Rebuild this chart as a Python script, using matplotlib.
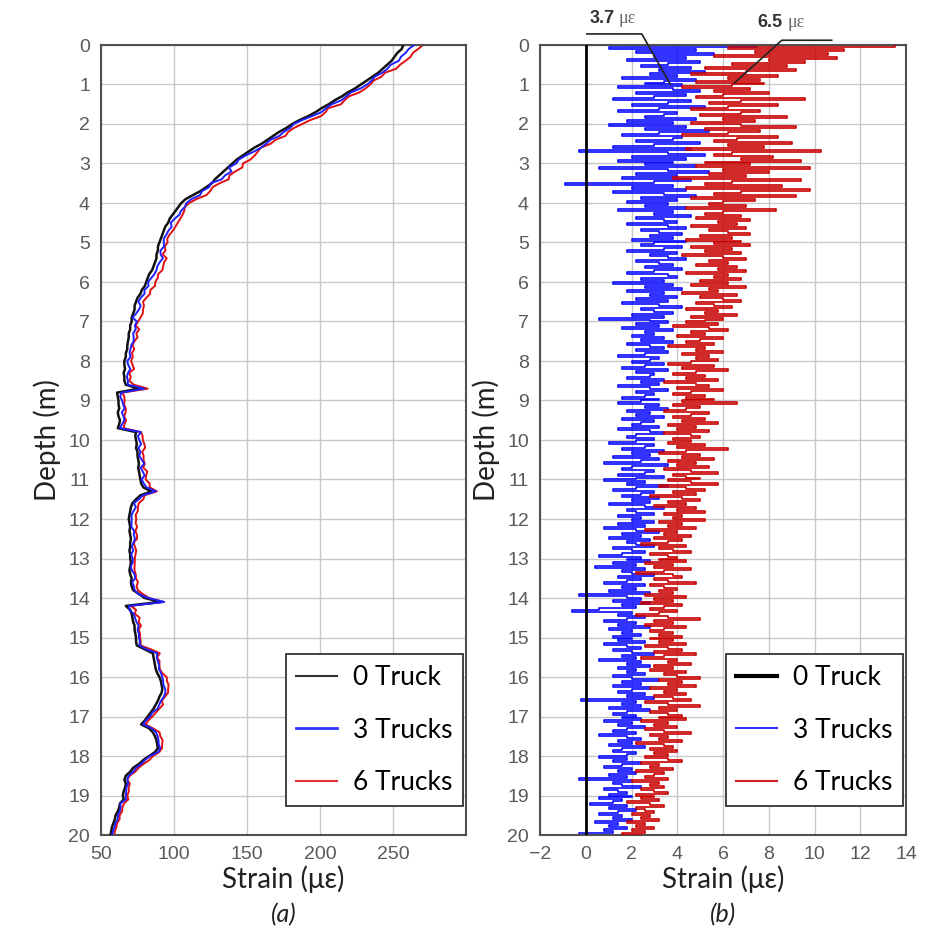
import numpy as np
import matplotlib
matplotlib.use("Agg")
import matplotlib.pyplot as plt
from matplotlib.lines import Line2D

# ---------------- data ----------------
# Panel (a): depth grid 0..20 m every 0.1 m, strain of "0 Truck"
depth_a = np.round(np.arange(0, 20.0001, 0.1), 2)
strain_0truck = [
    257, 256, 253, 251, 249, 246, 243, 240, 236, 232,
    228, 224, 219, 215, 210, 206, 201, 197, 192, 186,
    181, 177, 172, 168, 164, 160, 155, 151, 147, 143,
    140, 137, 134, 131, 128, 126, 122, 118, 113, 108,
    105, 103, 101, 99, 97, 96, 94, 93, 92, 91,
    90, 89, 89, 88, 88, 87, 86, 85, 83, 82,
    81, 80, 78, 77, 75, 74, 73, 73, 72, 71,
    71, 70, 70, 69, 69, 68.5, 68, 68, 67, 67,
    66, 66, 66.5, 65.5, 66, 66, 67, 76, 61, 61.5,
    62, 62, 62.5, 61.5, 62, 63, 62.5, 61.5, 74, 73.5,
    74, 74.5, 74, 75, 75, 75.5, 76, 75.5, 76, 76.5,
    77, 77.5, 79, 84.5, 77, 74, 71.5, 70.5, 70, 69.5,
    69, 69.5, 70, 69.5, 70, 70.5, 70, 70, 69.5, 70,
    70, 70.5, 70, 69.5, 70, 71, 70.5, 71, 72, 76,
    80, 90.5, 67, 70, 71, 71.5, 72, 73, 73, 73.5,
    74, 74, 74.5, 80, 85.5, 86, 86.5, 87, 87.5, 88.5,
    90, 91, 91.5, 92, 91.5, 90, 89, 87.5, 86, 84,
    82, 80, 77.5, 83, 85.5, 87, 88, 88.5, 89, 87,
    83, 79, 76, 72, 70, 67, 66, 67, 66.5, 65.5,
    65, 65.5, 63, 62.5, 61.5, 60, 59.5, 58.5, 57.5, 57,
    56.5,
]

# Panel (b): strain change relative to 0 Truck, depth 0..20 m every 0.05 m
depth_b = np.round(np.arange(0, 20.0001, 0.05), 3)
delta_3trucks = [
    7.5, 1.0, 4.8, 2.2, 5.6, 3.0, 4.4, 1.8, 5.0, 3.6, 2.4, 4.6, 3.2, 5.2, 2.8, 4.0, 1.6, 4.8, 3.4, 2.6,
    4.2, 1.4, 3.8, 5.0, 2.2, 4.4, 3.0, 1.2, 4.6, 3.6, 2.0, 5.2, 3.2, 1.4, 4.0, 3.4, 2.6, 4.8, 1.8, 3.8,
    1.0, 4.4, 2.6, 5.4, 3.2, 1.6, 4.2, 3.8, 2.2, 5.0, 3.0, 1.2, 4.6, -0.3, 3.6, 5.2, 2.0, 4.4, 1.4, 3.8,
    2.6, 4.8, 0.6, 3.6, 5.4, 2.2, 4.0, 1.6, 4.6, 3.0, -0.9, 3.8, 2.0, 4.4, 1.2, 3.4, 4.8, 2.4, 4.0, 1.8,
    3.6, 2.6, 4.4, 1.4, 3.8, 3.0, 4.6, 2.2, 3.4, 4.0, 1.8, 3.6, 4.4, 2.4, 3.2, 4.2, 2.8, 3.8, 2.0, 4.4,
    3.0, 2.4, 4.2, 3.4, 1.8, 4.0, 2.8, 3.6, 4.4, 2.2, 3.2, 3.8, 2.6, 4.2, 3.0, 1.8, 3.6, 4.0, 2.4, 3.4,
    1.2, 3.8, 2.6, 4.2, 1.8, 3.4, 2.8, 4.0, 2.2, 3.6, 1.6, 3.2, 4.2, 2.4, 3.0, 3.8, 2.0, 3.4, 0.6, 2.8,
    3.6, 2.2, 3.2, 1.6, 3.8, 2.6, 3.0, 2.0, 3.4, 2.4, 3.8, 1.8, 2.8, 3.4, 2.2, 3.6, 2.6, 1.4, 3.2, 2.8,
    2.0, 3.4, 2.6, 1.6, 3.6, 2.2, 3.0, 2.8, 1.8, 3.4, 2.4, 3.2, 1.4, 2.8, 3.6, 2.2, 3.0, 2.6, 1.6, 3.2,
    2.4, 1.4, 3.2, 2.6, 3.6, 1.8, 2.8, 2.2, 3.4, 1.6, 3.0, 2.4, 2.0, 3.2, 1.4, 2.8, 3.4, 2.2, 1.8, 3.0,
    2.2, 1.0, 3.0, 2.6, 1.6, 3.4, 2.0, 2.8, 1.2, 3.2, 2.4, 0.8, 3.6, 2.0, 1.6, 3.0, 2.6, 1.4, 3.4, 2.2,
    0.8, 2.6, 1.8, 3.6, 2.2, 1.2, 3.0, 2.4, 1.6, 3.2, 2.0, 2.8, 1.0, 2.6, 3.4, 1.8, 2.2, 3.0, 1.4, 2.4,
    2.0, 3.0, 1.4, 2.6, 0.8, 2.2, 3.2, 1.6, 2.4, 1.0, 2.8, 1.8, 2.2, 3.0, 1.2, 2.0, 2.6, 1.6, 0.6, 2.4,
    1.8, 2.8, 1.2, 2.2, 0.4, 2.6, 1.6, 2.0, 3.0, 1.4, 2.4, 1.8, 0.8, 2.6, 1.6, 2.2, 1.0, 2.8, -0.3, 1.8,
    2.4, 1.2, 2.8, 1.6, 2.2, 0.6, -0.6, 2.0, 1.4, 2.6, 1.8, 0.8, 2.2, 1.4, 2.8, 1.0, 2.0, 1.6, 2.4, 1.2,
    2.0, 1.4, 2.6, 0.8, 1.8, 2.4, 1.2, 2.0, 3.0, 1.6, 2.2, 0.6, 2.4, 1.8, 2.8, 1.4, 2.2, 1.8, 2.6, 1.2,
    2.0, 3.2, 1.6, 2.4, 1.2, 2.8, 2.0, 1.4, 2.6, 1.8, 3.0, -0.2, 2.2, 1.6, 2.4, 1.0, 2.8, 1.8, 1.2, 2.2,
    1.6, 2.4, 0.8, 2.0, 1.4, 2.6, 1.8, 1.2, 2.2, 0.6, 1.8, 2.4, 1.4, 2.0, 1.0, 2.6, 1.6, 1.2, 2.2, 1.8,
    0.6, 1.8, 1.2, 2.4, 1.6, 0.8, 2.0, 1.4, 2.2, 1.0, 1.8, -0.3, 2.0, 1.2, 1.6, 2.4, 0.8, 1.4, 1.8, 1.0,
    2.0, 0.6, 1.6, 1.2, 0.2, 1.8, 1.0, 2.2, 1.4, 0.6, 1.6, 1.2, 2.0, 0.4, 1.4, 1.0, 1.8, 0.8, 1.2, -0.3,
    1.0,
]
delta_6trucks = [
    13.5, 6.2, 11.3, 7.4, 10.6, 5.6, 11.0, 8.0, 9.6, 6.4, 8.8, 5.2, 9.2, 7.0, 4.6, 8.4, 6.2, 7.6, 4.8, 7.8,
    6.4, 4.2, 7.2, 5.6, 8.0, 6.0, 4.8, 9.6, 6.8, 5.4, 8.4, 6.2, 4.6, 7.6, 6.8, 5.0, 8.8, 6.0, 7.4, 4.6,
    6.8, 9.2, 5.2, 7.6, 6.2, 4.2, 8.4, 6.6, 5.6, 9.0, 6.2, 7.8, 4.4, 10.3, 6.4, 5.6, 8.2, 6.8, 9.4, 5.2,
    7.2, 4.8, 9.8, 6.0, 8.0, 5.4, 7.0, 3.8, 9.4, 6.4, 5.2, 8.6, 4.4, 9.8, 6.8, 5.6, 9.2, 4.6, 7.4, 6.0,
    5.4, 7.0, 4.4, 8.3, 6.0, 5.2, 6.8, 4.8, 7.2, 5.8, 6.6, 4.6, 7.0, 5.4, 6.2, 7.2, 5.0, 6.4, 4.4, 6.8,
    5.6, 7.2, 4.6, 6.4, 5.2, 6.8, 4.2, 6.0, 7.0, 5.4, 6.2, 4.8, 6.6, 5.8, 7.0, 4.4, 6.2, 5.6, 6.8, 5.0,
    6.2, 4.6, 7.0, 5.4, 5.8, 4.2, 6.6, 5.0, 6.0, 6.8, 4.8, 5.6, 6.4, 4.4, 5.8, 5.2, 6.6, 4.6, 6.0, 5.2,
    4.4, 5.8, 3.8, 5.4, 6.2, 4.6, 5.2, 4.0, 6.0, 5.0, 4.4, 5.6, 3.6, 5.2, 4.8, 6.0, 4.2, 5.4, 4.8, 5.8,
    4.6, 3.6, 5.6, 4.2, 6.2, 4.8, 3.8, 5.2, 4.4, 5.8, 3.4, 4.8, 5.4, 4.0, 6.0, 4.6, 3.8, 5.2, 4.4, 5.6,
    4.2, 6.6, 3.8, 5.0, 4.4, 3.4, 5.4, 4.6, 3.8, 5.2, 4.2, 5.8, 3.6, 4.8, 4.0, 5.4, 3.4, 4.6, 5.0, 3.8,
    4.6, 3.6, 5.2, 4.0, 6.2, 4.4, 3.2, 5.0, 4.2, 5.6, 3.6, 4.8, 4.0, 5.4, 3.4, 4.6, 5.8, 3.8, 4.4, 5.0,
    3.6, 4.6, 5.8, 3.2, 4.4, 5.2, 3.8, 4.8, 2.8, 4.2, 5.0, 3.6, 4.4, 3.0, 4.8, 4.0, 5.2, 3.4, 4.2, 3.8,
    5.2, 3.2, 4.2, 3.6, 4.8, 2.6, 4.0, 3.4, 4.6, 3.0, 4.2, 3.6, 2.4, 4.4, 3.2, 3.8, 4.6, 2.8, 3.6, 4.0,
    3.2, 4.4, 2.6, 3.8, 3.0, 4.6, 3.4, 2.2, 3.8, 4.2, 3.0, 3.6, 4.8, 2.8, 3.4, 4.0, 3.2, 3.8, 2.6, 4.4,
    3.0, 3.8, 2.4, 4.2, 3.4, 2.8, 4.0, 3.2, 2.2, 3.6, 5.0, 3.0, 3.8, 2.6, 4.4, 3.4, 2.8, 3.8, 3.2, 4.2,
    2.8, 3.8, 3.2, 4.4, 2.6, 3.6, 4.2, 3.0, 4.8, 3.4, 2.4, 4.0, 3.6, 4.6, 3.0, 3.8, 2.8, 4.4, 3.4, 4.0,
    5.0, 3.2, 4.2, 3.6, 4.8, 2.8, 4.0, 3.4, 4.4, 3.0, 3.8, 4.6, 2.6, 3.6, 5.0, 3.2, 4.0, 2.8, 3.6, 4.2,
    3.2, 4.4, 2.4, 3.6, 3.0, 4.0, 2.6, 3.4, 4.6, 2.8, 3.6, 3.2, 4.2, 2.2, 3.4, 3.8, 2.8, 4.0, 3.0, 3.6,
    2.6, 3.6, 4.2, 2.4, 3.2, 2.8, 3.8, 2.2, 3.4, 3.0, 2.6, 3.6, 2.0, 3.2, 2.8, 3.4, 2.4, 3.0, 3.6, 2.2,
    3.0, 2.4, 3.2, 1.8, 2.8, 3.4, 2.2, 2.6, 3.0, 2.0, 2.8, 2.4, 3.2, 1.8, 2.6, 2.2, 3.0, 2.0, 2.6, 1.6,
    2.4,
]
delta_0truck = [0.0] * len(depth_b)

series_labels = ["0 Truck", "3 Trucks", "6 Trucks"]
xticks_a = [50, 100, 150, 200, 250]
xticks_b = [-2, 0, 2, 4, 6, 8, 10, 12, 14]
yticks = list(range(0, 21))
annot_values = [3.7, 6.5]
annot_depths = [1.0, 0.96]

# Panel (a) loaded curves = 0 Truck + change (same depths, every 2nd point of (b))
s0 = np.array(strain_0truck)
s3 = s0 + np.array(delta_3trucks)[::2]
s6 = s0 + np.array(delta_6trucks)[::2]

# ---------------- styling ----------------
plt.rcParams['font.family'] = ['Liberation Sans', 'DejaVu Sans']
tick_col = '#5a5a5a'
grid_col = '#c8c8c8'
spine_col = '#505050'
label_font = ['Lato', 'DejaVu Sans']

fig = plt.figure(figsize=(9.3, 9.3), dpi=100)
ax1 = fig.add_axes([101/930, 95/930, 365/930, 790/930])
ax2 = fig.add_axes([540/930, 95/930, 366/930, 790/930])

def style(ax, xlim, xticks):
    ax.set_xlim(*xlim)
    ax.set_ylim(20, 0)
    ax.set_xticks(xticks)
    ax.set_yticks(yticks)
    ax.grid(True, color=grid_col, lw=1.0)
    ax.set_axisbelow(True)
    ax.tick_params(length=0, labelsize=14, colors=tick_col)
    ax.tick_params(axis='x', pad=8)
    ax.tick_params(axis='y', pad=8)
    for sp in ax.spines.values():
        sp.set_color(spine_col)
        sp.set_linewidth(1.5)
    ax.set_ylabel("Depth (m)", fontsize=20, family=label_font, color='#222222', labelpad=5)
    ax.set_xlabel("Strain (με)", fontsize=20, family=label_font, color='#222222', labelpad=2)

# Panel (a)
ax1.plot(s0, depth_a, color='#111111', lw=1.8, zorder=3, label=series_labels[0])
ax1.plot(s6, depth_a, color='#e01010', lw=1.4, zorder=2, label=series_labels[2])
ax1.plot(s3, depth_a, color='#2020ff', lw=1.4, zorder=4, label=series_labels[1])
style(ax1, (50, 300), xticks_a)

# Panel (b)
ax2.plot(delta_3trucks, depth_b, color='#0a0aff', lw=1.2, zorder=2, drawstyle='steps-pre')
ax2.plot(delta_6trucks, depth_b, color='#c80000', lw=1.2, zorder=3, drawstyle='steps-pre')
ax2.plot(delta_0truck, depth_b, color='black', lw=2.0, zorder=5)
style(ax2, (-2, 14), xticks_b)

# Legends
leg_font = {'family': ['Lato', 'DejaVu Sans'], 'size': 19}
h_a = [Line2D([], [], color='#333333', lw=1.5),
       Line2D([], [], color='#3030ff', lw=2.0),
       Line2D([], [], color='#e03030', lw=1.5)]
h_b = [Line2D([], [], color='black', lw=3.0),
       Line2D([], [], color='#3030ff', lw=1.5),
       Line2D([], [], color='#d02020', lw=1.5)]
for ax, hs in ((ax1, h_a), (ax2, h_b)):
    lg = ax.legend(hs, series_labels, loc='lower right', bbox_to_anchor=(0.992, 0.037),
                   prop=leg_font, frameon=True, fancybox=False, framealpha=1,
                   edgecolor='#333333', handlelength=1.55, handletextpad=0.6,
                   labelspacing=1.05, borderpad=0.4, borderaxespad=0)
    lg.get_frame().set_linewidth(1.3)
    lg.set_zorder(10)

# Annotations in panel (b)
ax2.plot([0.05, 2.45, annot_values[0]], [-0.28, -0.28, annot_depths[0]],
         color='#222222', lw=1.2, clip_on=False, zorder=6)
ax2.plot([10.75, 8.57, annot_values[1]], [-0.12, -0.12, annot_depths[1]],
         color='#222222', lw=1.2, clip_on=False, zorder=6)
ax2.text(0.15, -0.68, f"{annot_values[0]}", fontsize=13, fontweight='bold',
         color='#333333', va='center', ha='left')
ax2.text(1.45, -0.66, "με", fontsize=13, family=['Liberation Serif', 'DejaVu Serif'],
         color='#666666', va='center', ha='left')
ax2.text(7.5, -0.58, f"{annot_values[1]}", fontsize=13, fontweight='bold',
         color='#333333', va='center', ha='left')
ax2.text(8.8, -0.56, "με", fontsize=13, family=['Liberation Serif', 'DejaVu Serif'],
         color='#666666', va='center', ha='left')

# Panel captions
fig.text((101 + 466) / 2 / 930, 1 - 915 / 930, "(a)", fontsize=18, style='italic',
         family=label_font, ha='center', va='center', color='#222222')
fig.text((540 + 906) / 2 / 930, 1 - 915 / 930, "(b)", fontsize=18, style='italic',
         family=label_font, ha='center', va='center', color='#222222')

fig.savefig("out.png", dpi=100, facecolor='white')
